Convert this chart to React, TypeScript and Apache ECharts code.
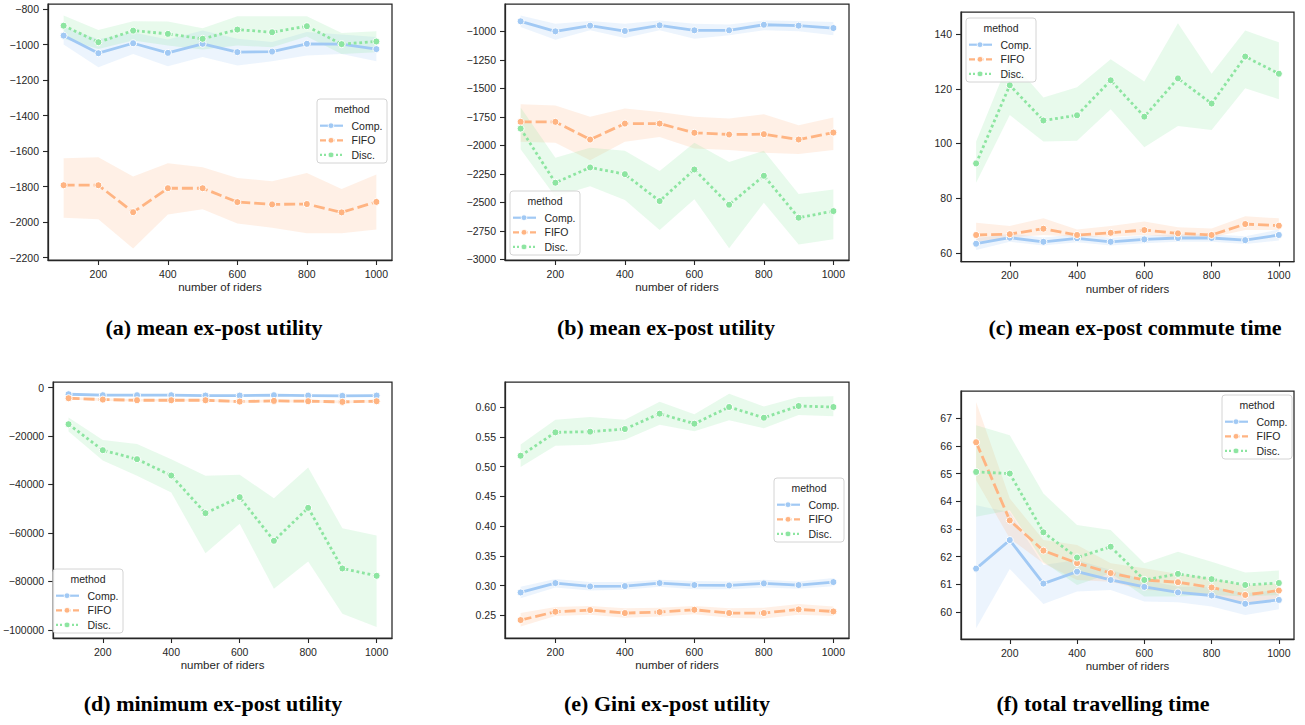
import React, { useEffect, useRef } from "react";
import * as echarts from "echarts";

// ---------- data ----------
const riders = [100, 200, 300, 400, 500, 600, 700, 800, 900, 1000];
const methods = ["Comp.", "FIFO", "Disc."];
const xTicks = [200, 400, 600, 800, 1000];

// (a) mean ex-post utility
const aCompMean = [-950, -1049, -993, -1047, -996, -1043, -1040, -996, -998, -1026];
const aCompHigh = [-900, -970, -933, -972, -921, -968, -986, -930, -943, -958];
const aCompLow = [-1000, -1128, -1053, -1122, -1071, -1118, -1094, -1062, -1053, -1094];
const aFifoMean = [-1792, -1792, -1944, -1809, -1809, -1887, -1900, -1898, -1945, -1886];
const aFifoHigh = [-1640, -1635, -1743, -1668, -1691, -1751, -1770, -1723, -1813, -1732];
const aFifoLow = [-1975, -1983, -2148, -1957, -1927, -2007, -2032, -2063, -2063, -2041];
const aDiscMean = [-894, -987, -922, -940, -968, -916, -931, -897, -998, -983];
const aDiscHigh = [-837, -918, -869, -871, -909, -841, -841, -841, -935, -925];
const aDiscLow = [-968, -1025, -978, -1006, -1028, -1006, -1015, -955, -1053, -1043];
const aYTicks = [-2200, -2000, -1800, -1600, -1400, -1200, -1000, -800];

// (b) mean ex-post utility
const bCompMean = [-912, -1000, -950, -997, -947, -991, -991, -942, -950, -971];
const bCompHigh = [-860, -933, -909, -933, -904, -933, -939, -904, -909, -918];
const bCompLow = [-962, -1073, -991, -1058, -991, -1064, -1035, -991, -1000, -1035];
const bFifoMean = [-1794, -1794, -1949, -1809, -1809, -1890, -1905, -1902, -1949, -1888];
const bFifoHigh = [-1639, -1651, -1750, -1677, -1707, -1750, -1765, -1727, -1823, -1756];
const bFifoLow = [-1969, -1978, -2130, -1969, -1926, -2028, -2042, -2066, -2077, -2042];
const bDiscMean = [-1853, -2328, -2194, -2253, -2489, -2212, -2521, -2267, -2635, -2577];
const bDiscHigh = [-1669, -2109, -2022, -2048, -2226, -1978, -2147, -2048, -2428, -2387];
const bDiscLow = [-2034, -2451, -2358, -2480, -2743, -2474, -2904, -2504, -2869, -2825];
const bYTicks = [-3000, -2750, -2500, -2250, -2000, -1750, -1500, -1250, -1000];

// (c) mean ex-post commute time
const cCompMean = [63.3, 65.5, 64.0, 65.3, 64.0, 64.9, 65.4, 65.4, 64.6, 66.5];
const cCompHigh = [65.3, 67.0, 65.6, 66.8, 65.5, 66.3, 66.8, 66.8, 66.0, 68.5];
const cCompLow = [61.0, 64.0, 62.7, 63.8, 62.7, 63.5, 64.0, 64.0, 63.2, 64.5];
const cFifoMean = [66.5, 66.8, 68.8, 66.5, 67.3, 68.3, 67.1, 66.5, 70.5, 69.9];
const cFifoHigh = [71.0, 69.8, 72.6, 68.5, 69.8, 71.4, 69.3, 68.9, 73.4, 72.6];
const cFifoLow = [64.0, 65.6, 66.5, 65.9, 65.9, 66.5, 65.6, 65.6, 68.3, 68.3];
const cDiscMean = [92.7, 121.3, 108.4, 110.3, 123.1, 109.8, 123.8, 114.6, 131.8, 125.5];
const cDiscHigh = [100.7, 131.0, 116.8, 120.6, 130.8, 122.7, 144.0, 125.5, 141.3, 137.0];
const cDiscLow = [85.6, 110.4, 100.7, 101.0, 112.5, 98.6, 106.4, 104.9, 120.2, 116.2];
const cYTicks = [60, 80, 100, 120, 140];

// (d) minimum ex-post utility
const dCompMean = [-2750, -3160, -3160, -3160, -3300, -3300, -3160, -3300, -3440, -3300];
const dCompHigh = [-2300, -2700, -2750, -2750, -2850, -2900, -2750, -2850, -3000, -2850];
const dCompLow = [-3200, -3600, -3550, -3600, -3750, -3700, -3600, -3750, -3900, -3750];
const dFifoMean = [-4400, -4950, -5230, -5230, -5230, -5780, -5500, -5640, -5910, -5640];
const dFifoHigh = [-3900, -4400, -4700, -4700, -4650, -5200, -4950, -5050, -5300, -5050];
const dFifoLow = [-4900, -5500, -5800, -5750, -5800, -6350, -6050, -6250, -6500, -6250];
const dDiscMean = [-15130, -25860, -29570, -36310, -51860, -45250, -63270, -49660, -74690, -77720];
const dDiscHigh = [-12380, -21600, -23250, -29570, -36450, -36040, -45670, -33010, -58050, -61070];
const dDiscLow = [-18160, -30120, -36450, -43330, -68360, -56260, -83080, -71800, -93400, -98900];
const dYTicks = [-100000, -80000, -60000, -40000, -20000, 0];

// (e) Gini ex-post utility
const eCompMean = [0.2886, 0.3043, 0.2987, 0.2993, 0.3043, 0.301, 0.3004, 0.3038, 0.301, 0.306];
const eCompHigh = [0.298, 0.311, 0.306, 0.306, 0.31, 0.308, 0.307, 0.31, 0.307, 0.313];
const eCompLow = [0.279, 0.297, 0.292, 0.293, 0.298, 0.294, 0.294, 0.297, 0.295, 0.299];
const eFifoMean = [0.2422, 0.2562, 0.259, 0.254, 0.2556, 0.2595, 0.254, 0.254, 0.2601, 0.2567];
const eFifoHigh = [0.254, 0.264, 0.266, 0.262, 0.263, 0.266, 0.262, 0.263, 0.269, 0.265];
const eFifoLow = [0.2315, 0.249, 0.251, 0.246, 0.248, 0.252, 0.246, 0.245, 0.251, 0.249];
const eDiscMean = [0.5182, 0.5574, 0.5586, 0.563, 0.5888, 0.572, 0.6, 0.582, 0.6017, 0.6];
const eDiscHigh = [0.537, 0.5787, 0.5832, 0.5787, 0.609, 0.5877, 0.6224, 0.601, 0.6168, 0.618];
const eDiscLow = [0.4992, 0.535, 0.5367, 0.545, 0.5703, 0.5591, 0.5776, 0.5642, 0.5866, 0.5843];
const eYTicks = [0.25, 0.3, 0.35, 0.4, 0.45, 0.5, 0.55, 0.6];

// (f) total travelling time
const fCompMean = [61.57, 62.6, 61.03, 61.46, 61.16, 60.91, 60.71, 60.6, 60.3, 60.44];
const fCompHigh = [63.86, 63.6, 61.7, 61.88, 61.52, 61.16, 60.92, 60.92, 60.68, 60.8];
const fCompLow = [59.42, 61.56, 60.29, 60.74, 60.8, 60.38, 60.36, 60.2, 59.9, 60.1];
const fFifoMean = [66.13, 63.31, 62.22, 61.77, 61.41, 61.16, 61.08, 60.89, 60.62, 60.78];
const fFifoHigh = [67.58, 64.1, 62.6, 62.42, 61.76, 61.58, 61.38, 61.22, 60.95, 61.04];
const fFifoLow = [64.76, 62.66, 61.76, 61.16, 61.1, 60.8, 60.74, 60.56, 60.32, 60.5];
const fDiscMean = [65.06, 65.0, 62.88, 61.97, 62.36, 61.16, 61.38, 61.19, 60.98, 61.05];
const fDiscHigh = [66.74, 66.38, 64.28, 63.14, 62.96, 61.76, 62.18, 61.82, 61.43, 61.5];
const fDiscLow = [63.44, 63.68, 61.82, 60.98, 61.4, 60.56, 60.56, 60.62, 60.56, 60.62];
const fYTicks = [60, 61, 62, 63, 64, 65, 66, 67];

const captions = [
  "(a) mean ex-post utility",
  "(b) mean ex-post utility",
  "(c) mean ex-post commute time",
  "(d) minimum ex-post utility",
  "(e) Gini ex-post utility",
  "(f) total travelling time",
];

// ---------- styling / layout ----------
const COLORS = ["#a1c9f4", "#ffb482", "#8de5a1"];
const BAND = ["rgba(161,201,244,0.2)", "rgba(255,180,130,0.2)", "rgba(141,229,161,0.2)"];
const DASHES: any[] = ["solid", [11, 4], [2.8, 2.8]];
const LEG_DASHES: any[] = [null, [6, 2.5], [2, 2]];
const INK = "#262626";
const SANS = "Liberation Sans, Arial, sans-serif";
const SERIF = "Liberation Serif, Times New Roman, serif";

const minus = (v: number) => String(v).replace("-", "\u2212");

const panels = [
  {
    grid: { left: 48, top: 4, width: 344, height: 256 },
    yMin: -2213, yMax: -772, yTicks: aYTicks, fmt: minus,
    data: [[aCompMean, aCompLow, aCompHigh], [aFifoMean, aFifoLow, aFifoHigh], [aDiscMean, aDiscLow, aDiscHigh]],
    legend: [317, 99], cap: [214, 327],
  },
  {
    grid: { left: 505, top: 4, width: 344, height: 256 },
    yMin: -3006, yMax: -760, yTicks: bYTicks, fmt: minus,
    data: [[bCompMean, bCompLow, bCompHigh], [bFifoMean, bFifoLow, bFifoHigh], [bDiscMean, bDiscLow, bDiscHigh]],
    legend: [510, 191], cap: [666, 327],
  },
  {
    grid: { left: 961, top: 12, width: 333, height: 249.5 },
    yMin: 56.8, yMax: 148.1, yTicks: cYTicks, fmt: minus,
    data: [[cCompMean, cCompLow, cCompHigh], [cFifoMean, cFifoLow, cFifoHigh], [cDiscMean, cDiscLow, cDiscHigh]],
    legend: [966, 18], cap: [1135, 327],
  },
  {
    grid: { left: 48, top: 382, width: 344, height: 256 },
    yMin: -103400, yMax: 2300, yTicks: dYTicks, fmt: minus,
    data: [[dCompMean, dCompLow, dCompHigh], [dFifoMean, dFifoLow, dFifoHigh], [dDiscMean, dDiscLow, dDiscHigh]],
    legend: [53, 569], cap: [213, 703],
  },
  {
    grid: { left: 505, top: 382, width: 344, height: 256 },
    yMin: 0.2121, yMax: 0.642, yTicks: eYTicks, fmt: (v: number) => v.toFixed(2),
    data: [[eCompMean, eCompLow, eCompHigh], [eFifoMean, eFifoLow, eFifoHigh], [eDiscMean, eDiscLow, eDiscHigh]],
    legend: [774, 478], cap: [667, 703],
  },
  {
    grid: { left: 961, top: 391, width: 333, height: 248 },
    yMin: 59.03, yMax: 67.98, yTicks: fYTicks, fmt: minus,
    data: [[fCompMean, fCompLow, fCompHigh], [fFifoMean, fFifoLow, fFifoHigh], [fDiscMean, fDiscLow, fDiscHigh]],
    legend: [1222, 395], cap: [1103, 703],
  },
];

function legendGraphic(left: number, top: number): any[] {
  const els: any[] = [
    {
      type: "rect",
      shape: { x: left, y: top, width: 70, height: 64, r: 3 },
      style: { fill: "rgba(255,255,255,0.8)", stroke: "#d4d4d4", lineWidth: 1 },
      z: 100,
    },
    {
      type: "text",
      x: left + 35,
      y: top + 10,
      style: { text: "method", fontSize: 10.5, fontFamily: SANS, fill: INK, align: "center", verticalAlign: "middle" },
      z: 101,
    },
  ];
  methods.forEach((m, i) => {
    const yy = top + 26.7 + i * 14.6;
    els.push({
      type: "line",
      shape: { x1: left + 3, y1: yy, x2: left + 26, y2: yy },
      style: { stroke: COLORS[i], lineWidth: 2.2, lineDash: LEG_DASHES[i] },
      z: 101,
    });
    els.push({
      type: "circle",
      shape: { cx: left + 14, cy: yy, r: 2.8 },
      style: { fill: COLORS[i], stroke: "#fff", lineWidth: 0.8 },
      z: 102,
    });
    els.push({
      type: "text",
      x: left + 34.5,
      y: yy,
      style: { text: m, fontSize: 10.5, fontFamily: SANS, fill: INK, align: "left", verticalAlign: "middle" },
      z: 101,
    });
  });
  return els;
}

function buildOption() {
  const grid: any[] = [];
  const xAxis: any[] = [];
  const yAxis: any[] = [];
  const series: any[] = [];
  const graphic: any[] = [];

  panels.forEach((p, gi) => {
    grid.push({ ...p.grid, show: true, borderColor: INK, borderWidth: 1.25, backgroundColor: "transparent" });
    xAxis.push({
      type: "value",
      gridIndex: gi,
      min: 55,
      max: 1045,
      name: "number of riders",
      nameLocation: "middle",
      nameGap: 21,
      nameTextStyle: { fontSize: 11.5, color: INK, fontFamily: SANS },
      axisLine: { show: true, onZero: false, lineStyle: { color: INK, width: 1.25 } },
      axisTick: { show: true, length: 5, customValues: xTicks, lineStyle: { color: INK, width: 1.1 } },
      axisLabel: {
        customValues: xTicks,
        fontSize: 10.5,
        color: INK,
        fontFamily: SANS,
        margin: 8,
        formatter: (v: number) => String(v),
      },
      splitLine: { show: false },
    });
    yAxis.push({
      type: "value",
      gridIndex: gi,
      min: p.yMin,
      max: p.yMax,
      axisLine: { show: true, onZero: false, lineStyle: { color: INK, width: 1.25 } },
      axisTick: { show: true, length: 5, customValues: p.yTicks, lineStyle: { color: INK, width: 1.1 } },
      axisLabel: { customValues: p.yTicks, fontSize: 10.5, color: INK, fontFamily: SANS, margin: 9, formatter: p.fmt },
      splitLine: { show: false },
    });

    p.data.forEach(([mean, low, high], mi) => {
      series.push({
        type: "custom",
        coordinateSystem: "cartesian2d",
        xAxisIndex: gi,
        yAxisIndex: gi,
        silent: true,
        z: 1,
        clip: true,
        data: [[riders[0], mean[0]]],
        renderItem: (_params: any, api: any) => {
          const pts: number[][] = [];
          for (let k = 0; k < riders.length; k++) pts.push(api.coord([riders[k], high[k]]));
          for (let k = riders.length - 1; k >= 0; k--) pts.push(api.coord([riders[k], low[k]]));
          return { type: "polygon", shape: { points: pts }, style: { fill: BAND[mi] } };
        },
      });
    });
    p.data.forEach(([mean], mi) => {
      series.push({
        type: "line",
        name: methods[mi],
        xAxisIndex: gi,
        yAxisIndex: gi,
        z: 3 + mi,
        data: riders.map((x, k) => [x, mean[k]]),
        symbol: "circle",
        symbolSize: 7,
        showSymbol: true,
        lineStyle: { color: COLORS[mi], width: 2.8, type: DASHES[mi] },
        itemStyle: { color: COLORS[mi], borderColor: "#fff", borderWidth: 1 },
        emphasis: { disabled: true },
      });
    });

    graphic.push(...legendGraphic(p.legend[0], p.legend[1]));
    graphic.push({
      type: "text",
      x: p.cap[0],
      y: p.cap[1],
      style: {
        text: captions[gi],
        fontSize: 22,
        fontWeight: "bold",
        fontFamily: SERIF,
        fill: "#000",
        align: "center",
        verticalAlign: "middle",
      },
    });
  });

  return {
    animation: false,
    backgroundColor: "#ffffff",
    grid,
    xAxis,
    yAxis,
    series,
    graphic,
  };
}

export default function App() {
  const ref = useRef<HTMLDivElement>(null);
  useEffect(() => {
    if (!ref.current) return;
    const chart = echarts.init(ref.current, undefined, { renderer: "svg" });
    chart.setOption(buildOption() as any);
    return () => chart.dispose();
  }, []);
  return (
    <div
      ref={ref}
      style={{ position: "fixed", left: 0, top: 0, width: 1305, height: 725, background: "#fff" }}
    />
  );
}
